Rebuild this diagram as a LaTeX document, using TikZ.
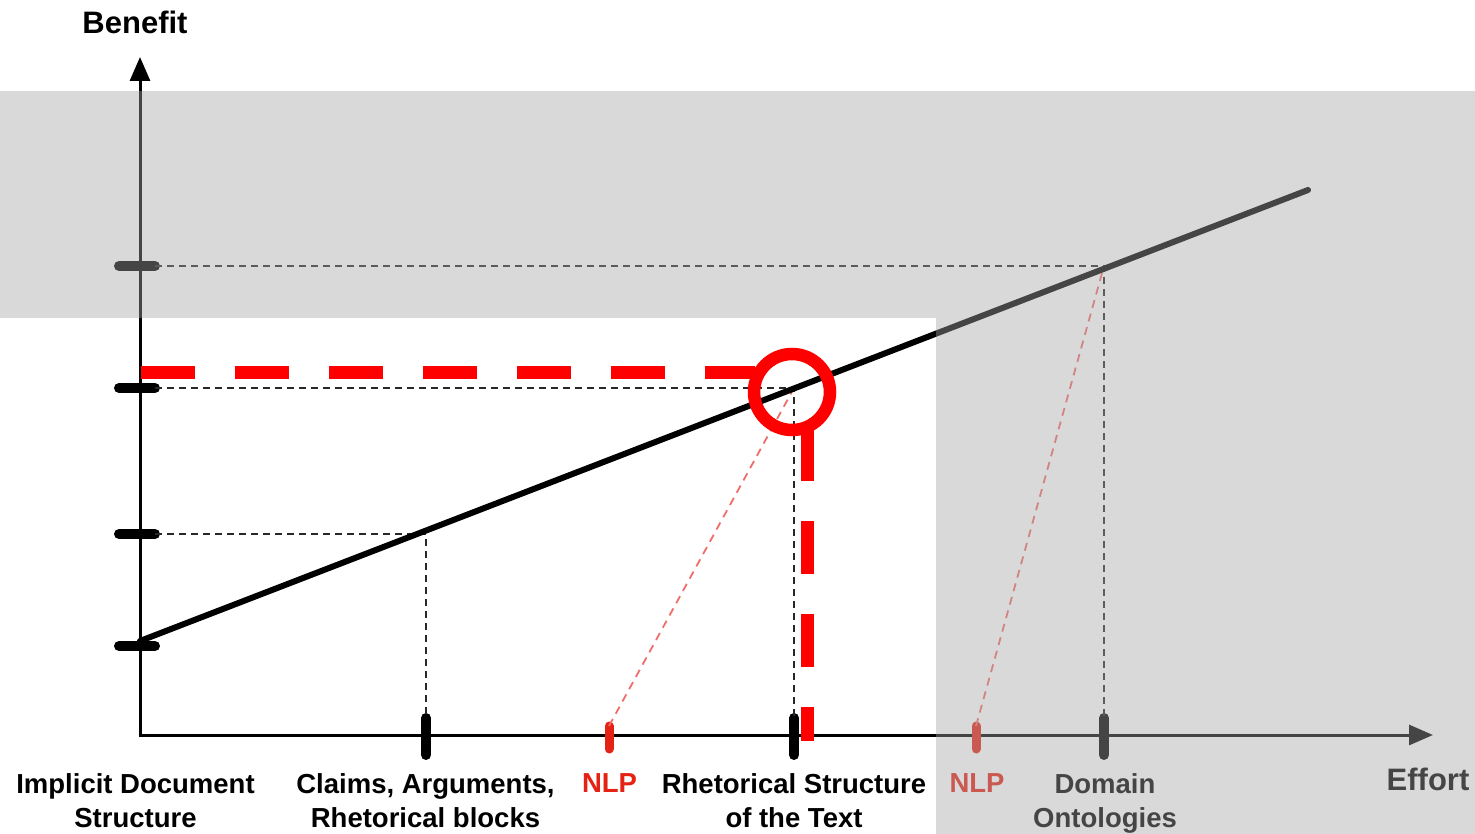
\documentclass[tikz,border=0pt]{standalone}
\usepackage{fontspec}
\setmainfont{Liberation Sans}
\usetikzlibrary{arrows.meta}
\definecolor{nlpred}{RGB}{228,35,20}
\definecolor{hlred}{RGB}{255,0,0}
\definecolor{shadegray}{RGB}{166,166,166}
\definecolor{guidegray}{RGB}{40,40,40}
\definecolor{nlpguidecol}{RGB}{240,110,105}
\begin{document}
\begin{tikzpicture}[x=1pt,y=-1pt,
  axisline/.style={line width=3pt, -{Triangle[length=24pt,width=20pt]}},
  tickmark/.style={line width=10pt, line cap=round},
  nlptick/.style={line width=9pt, line cap=round, nlpred},
  guide/.style={line width=1.8pt, dash pattern=on 7pt off 5pt, guidegray},
  nlpguide/.style={line width=1.8pt, dash pattern=on 8pt off 6pt, nlpguidecol},
  hlline/.style={line width=13pt, hlred},
  curve/.style={line width=6pt, line cap=round},
  lbl/.style={font=\bfseries\fontsize{27.5}{34}\selectfont, align=center, inner sep=0pt},
  axlbl/.style={font=\bfseries\fontsize{31}{36}\selectfont, inner sep=0pt, anchor=base},
  shadezone/.style={fill=shadegray, fill opacity=0.42, draw=none}]
\useasboundingbox (0,0) rectangle (1475,834);
\fill[white] (0,0) rectangle (1475,834);

% key coordinates
\coordinate (O) at (140,735);
\coordinate (ytip) at (140,57);
\coordinate (xtip) at (1433,735);
\coordinate (lstart) at (140,641);
\coordinate (lend) at (1308,190);
\coordinate (p1) at (426,534);
\coordinate (p2) at (794,388);
\coordinate (p3) at (1104,266);

% axes
\draw[axisline] ([yshift=1.5pt]O) -- (ytip);
\draw[axisline] ([xshift=-1.5pt]O) -- (xtip);

% y ticks
\foreach \yy/\nm in {266/ty3, 388/ty2, 534/ty1, 646/ty0}{
  \coordinate (\nm a) at (119,\yy);
  \coordinate (\nm b) at (155,\yy);
  \draw[tickmark] (\nm a) -- (\nm b);
}
% x ticks
\foreach \xx/\nm in {426/tx1, 794/tx2, 1104/tx3}{
  \coordinate (\nm a) at (\xx,718);
  \coordinate (\nm b) at (\xx,755);
  \draw[tickmark] (\nm a) -- (\nm b);
}
\foreach \xx/\nm in {609/tn1, 976/tn2}{
  \coordinate (\nm a) at (\xx,726);
  \coordinate (\nm b) at (\xx,749);
  \draw[nlptick] (\nm a) -- (\nm b);
}

% guides
\draw[guide] (ty1b) -- (p1) -- (tx1a);
\draw[guide] (ty2b) -- (p2) -- (tx2a);
\draw[guide] (ty3b) -- (p3) -- (tx3a);
\draw[nlpguide] (tn1a) -- (p2);
\draw[nlpguide] (tn2a) -- (p3);

% main line
\draw[curve] (lstart) -- (lend);

% highlight
\coordinate (h1) at (141,372.5);
\coordinate (h2) at (755,372.5);
\coordinate (v1) at (807.5,428);
\coordinate (v2) at (807.5,741);
\draw[hlline, dash pattern=on 54pt off 40pt] (h1) -- (h2);
\draw[hlline, dash pattern=on 53pt off 40pt] (v1) -- (v2);
\node (focus) [circle, draw=hlred, line width=12.5pt, minimum size=76pt, inner sep=0pt] at (792,392) {};

% labels
\node (benefit) [axlbl] at (135,34) {Benefit};
\node (effort) [axlbl] at (1428,790) {Effort};
\node (l1) [lbl, anchor=north] at (135.5,773) {Implicit Document\\Structure};
\node (l2) [lbl, anchor=north] at (425.5,773) {Claims, Arguments,\\Rhetorical blocks};
\node (l3) [lbl, anchor=north, text=nlpred] at (609.5,773) {NLP};
\node (l4) [lbl, anchor=north] at (794,773) {Rhetorical Structure\\of the Text};
\node (l5) [lbl, anchor=north, text=nlpred] at (977,773) {NLP};
\node (l6) [lbl, anchor=north] at (1105,773) {Domain\\Ontologies};

% shaded zones
\fill[shadezone] (0,91) rectangle (1475,318);
\fill[shadezone] (936,318) rectangle (1475,834);
\end{tikzpicture}
\end{document}
